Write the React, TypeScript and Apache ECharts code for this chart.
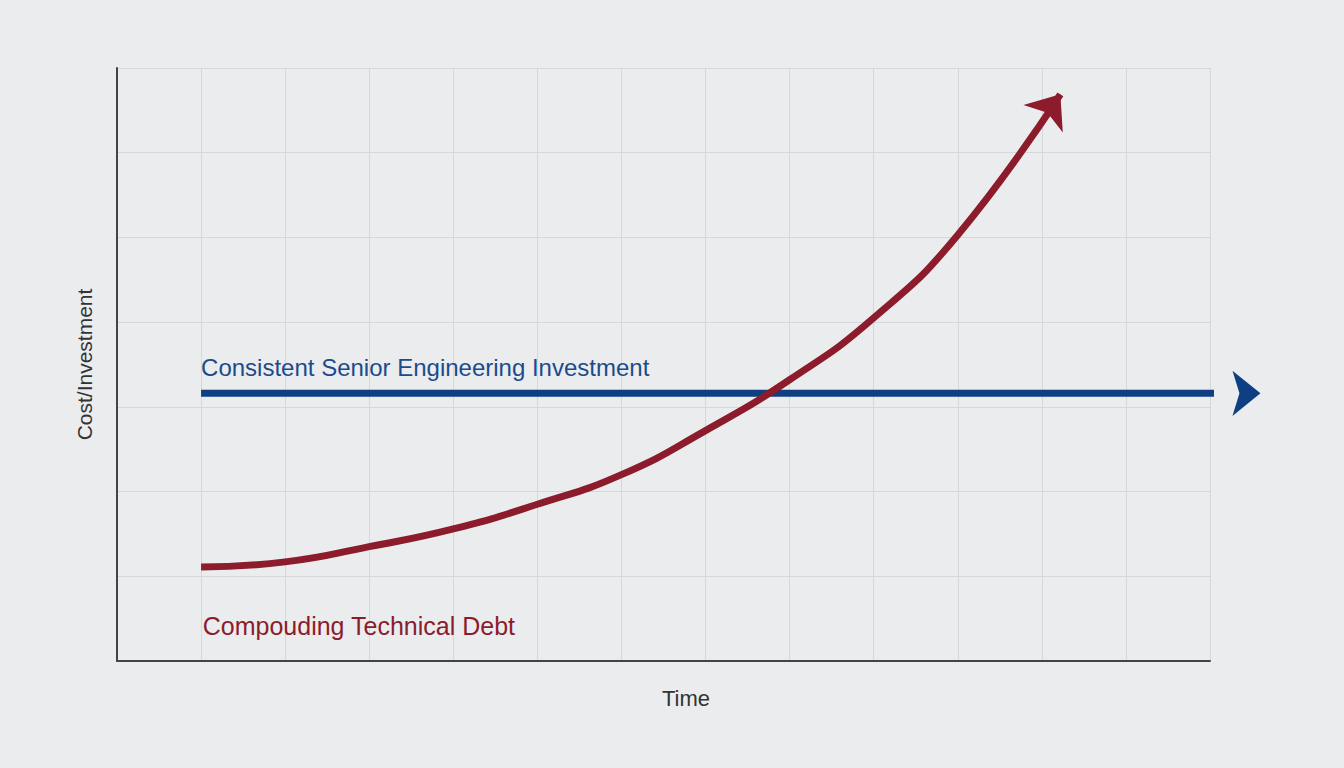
import React, { useEffect, useRef } from 'react';
import * as echarts from 'echarts';

// time steps (x) and relative cost (y)
const debtX = [1, 2, 3, 4, 5, 6, 7, 8, 9, 10, 11.22];
const debtY = [1.11, 1.17, 1.35, 1.56, 1.85, 2.2, 2.72, 3.32, 4.05, 5.03, 6.69];

const investX = [1, 13.6];
const investY = [3.16, 3.16];

const investLabel = 'Consistent Senior Engineering Investment';
const debtLabel = 'Compouding Technical Debt';

const BLUE = '#0e3f82';
const RED = '#8c1b2b';
const FONT = '"Liberation Sans", Arial, sans-serif';

const App: React.FC = () => {
  const chartRef = useRef<HTMLDivElement>(null);

  useEffect(() => {
    document.body.style.margin = '0';
    if (!chartRef.current) return;
    const chart = echarts.init(chartRef.current, undefined, { renderer: 'svg' });

    const debtData = debtX.map((x, i) => {
      const last = i === debtX.length - 1;
      return last
        ? { value: [x, debtY[i]], symbol: 'arrow', symbolSize: [36, 30], symbolRotate: -35 }
        : { value: [x, debtY[i]], symbol: 'none' };
    });
    const investData = investX.map((x, i) => {
      const last = i === investX.length - 1;
      return last
        ? { value: [x, investY[i]], symbol: 'arrow', symbolSize: [34, 28], symbolRotate: -90 }
        : { value: [x, investY[i]], symbol: 'none' };
    });

    chart.setOption({
      animation: false,
      backgroundColor: '#ebecee',
      textStyle: { fontFamily: FONT },
      grid: { left: 117, right: 134, top: 68, bottom: 107 },
      xAxis: {
        type: 'value',
        min: 0,
        max: 13,
        interval: 1,
        name: 'Time',
        nameLocation: 'middle',
        nameGap: 26,
        nameTextStyle: { fontSize: 22, color: '#333', fontFamily: FONT, padding: [0, 0, 0, 45] },
        axisLine: { show: true, lineStyle: { color: '#444', width: 2 } },
        axisTick: { show: false },
        axisLabel: { show: false },
        splitLine: { show: true, lineStyle: { color: '#d6d7db', width: 1 } },
      },
      yAxis: {
        type: 'value',
        min: 0,
        max: 7,
        interval: 1,
        name: 'Cost/Investment',
        nameLocation: 'middle',
        nameGap: 22,
        nameTextStyle: { fontSize: 21, color: '#333', fontFamily: FONT },
        axisLine: { show: true, lineStyle: { color: '#444', width: 2 } },
        axisTick: { show: false },
        axisLabel: { show: false },
        splitLine: { show: true, lineStyle: { color: '#d6d7db', width: 1 } },
      },
      series: [
        {
          name: 'Investment',
          type: 'line',
          clip: false,
          data: investData,
          lineStyle: { color: BLUE, width: 7 },
          itemStyle: { color: BLUE },
          markPoint: {
            symbol: 'circle',
            symbolSize: 0,
            data: [
              {
                coord: [1, 3.46],
                label: {
                  show: true,
                  position: 'right',
                  distance: 0,
                  formatter: investLabel,
                  fontSize: 24,
                  fontFamily: FONT,
                  color: '#1b4b8c',
                },
              },
            ],
          },
        },
        {
          name: 'Debt',
          type: 'line',
          clip: false,
          smooth: 0.5,
          data: debtData,
          lineStyle: { color: RED, width: 7 },
          itemStyle: { color: RED },
          markPoint: {
            symbol: 'circle',
            symbolSize: 0,
            data: [
              {
                coord: [1.02, 0.41],
                label: {
                  show: true,
                  position: 'right',
                  distance: 0,
                  formatter: debtLabel,
                  fontSize: 25,
                  fontFamily: FONT,
                  color: '#8b1c2c',
                },
              },
            ],
          },
        },
      ],
    });

    return () => {
      chart.dispose();
    };
  }, []);

  return <div ref={chartRef} style={{ width: '1344px', height: '768px' }}></div>;
};

export default App;
